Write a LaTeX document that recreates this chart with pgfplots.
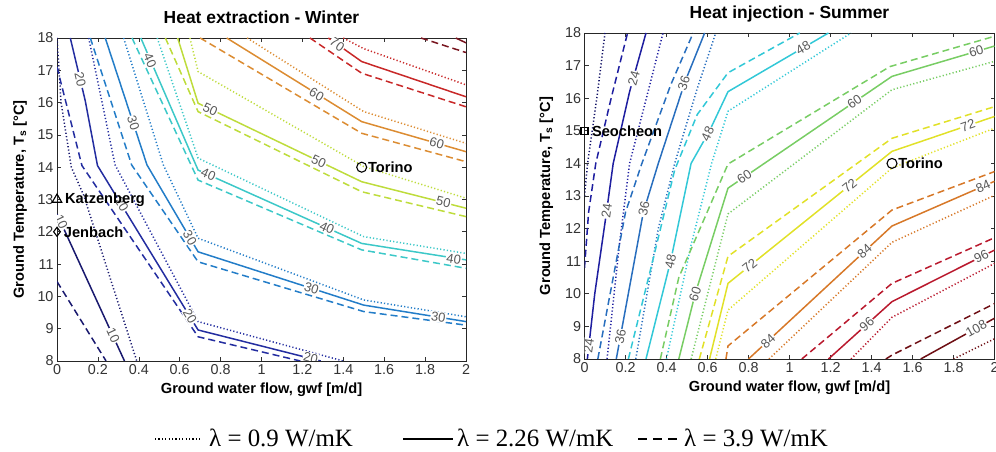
\documentclass[border=0pt]{standalone}
\usepackage{fontspec}
\setmainfont{Liberation Serif}
\setsansfont{Liberation Sans}
\usepackage{pgfplots}
\pgfplotsset{compat=1.18}

\definecolor{wA}{RGB}{25,25,110}
\definecolor{wB}{RGB}{35,45,160}
\definecolor{wC}{RGB}{35,125,200}
\definecolor{wD}{RGB}{60,200,200}
\definecolor{wE}{RGB}{190,220,60}
\definecolor{wF}{RGB}{220,140,50}
\definecolor{wG}{RGB}{200,40,40}
\definecolor{wH}{RGB}{120,20,30}
\definecolor{sA}{RGB}{15,15,100}
\definecolor{sB}{RGB}{30,30,160}
\definecolor{sC}{RGB}{40,110,190}
\definecolor{sD}{RGB}{50,200,215}
\definecolor{sE}{RGB}{120,205,100}
\definecolor{sF}{RGB}{225,225,40}
\definecolor{sG}{RGB}{215,120,40}
\definecolor{sH}{RGB}{185,25,45}
\definecolor{sI}{RGB}{110,15,20}

\tikzset{
  sol/.style={solid, line width=1.5bp},
  das/.style={line width=1.5bp, dash pattern=on 7bp off 4bp},
  dot/.style={line width=1.5bp, dash pattern=on 1.2bp off 2.2bp},
  lab/.style={font=\sffamily\fontsize{13}{13}\selectfont, text=black!65, fill=white, inner sep=0.8bp},
  mlab/.style={font=\sffamily\bfseries\fontsize{14.7}{14.7}\selectfont, anchor=west, inner sep=0bp},
  leg/.style={font=\rmfamily\fontsize{25}{25}\selectfont, anchor=base west, inner sep=0bp},
}

\pgfplotsset{
  cplot/.style={
    scale only axis,
    xmin=0, xmax=2, ymin=8, ymax=18,
    xtick={0,0.2,0.4,0.6,0.8,1,1.2,1.4,1.6,1.8,2},
    xticklabels={0,0.2,0.4,0.6,0.8,1,1.2,1.4,1.6,1.8,2},
    ytick={8,9,10,11,12,13,14,15,16,17,18},
    tick align=inside, xtick pos=both, ytick pos=both,
    major tick length=4bp,
    every tick/.style={black!80, line width=0.6bp},
    axis line style={black!85, line width=0.8bp},
    tick label style={font=\sffamily\fontsize{14.4}{14.4}\selectfont, text=black!80},
    /pgf/number format/assume math mode=true,
    xlabel={Ground water flow, gwf [m/d]},
    ylabel={Ground Temperature, T\textsubscript{s} [°C]},
    label style={font=\sffamily\bfseries\fontsize{14.7}{14.7}\selectfont},
    title style={font=\sffamily\bfseries\fontsize{17.5}{17.5}\selectfont, at={(axis description cs:0.5,1)}, anchor=base, yshift=9bp},
    xlabel style={at={(axis description cs:0.5,0)}, anchor=base, yshift=-33bp},
    every axis plot/.append style={mark=none},
  },
}

\begin{document}
\begin{tikzpicture}
% ================= WINTER =================
\begin{axis}[cplot, at={(57bp,91bp)}, anchor=south west, width=409bp, height=323bp,
  title={Heat extraction - Winter},
  ylabel style={at={(axis description cs:-0.0807,0.5)}, anchor=base},
]
% level 10
\addplot[sol, draw=wA] coordinates {(0,12.55) (0.33,8)};
\addplot[das, draw=wA] coordinates {(0,10.46) (0.24,8)};
\addplot[dot, draw=wA] coordinates {(0,18) (0.02,16) (0.07,14) (0.13,13.14) (0.39,8)};
% level 20
\addplot[sol, draw=wB] coordinates {(0.065,18) (0.138,16.06) (0.198,14.05) (0.69,8.96) (1.29,8)};
\addplot[das, draw=wB] coordinates {(0,17.1) (0.122,14.05) (0.69,8.75) (1.19,8)};
\addplot[dot, draw=wB] coordinates {(0.155,18) (0.284,14.07) (0.69,9.22) (1.40,8)};
% level 30
\addplot[sol, draw=wC] coordinates {(0.236,18) (0.44,14.07) (0.69,11.38) (1.5,9.73) (2,9.22)};
\addplot[das, draw=wC] coordinates {(0.163,18) (0.365,14.07) (0.69,11.07) (1.5,9.53) (2,9.11)};
\addplot[dot, draw=wC] coordinates {(0.326,18) (0.52,14.07) (0.69,11.8) (1.5,9.89) (2,9.37)};
% level 40
\addplot[sol, draw=wD] coordinates {(0.41,18) (0.69,13.91) (1.49,11.64) (2,11.13)};
\addplot[das, draw=wD] coordinates {(0.367,18) (0.69,13.6) (1.49,11.44) (2,10.87)};
\addplot[dot, draw=wD] coordinates {(0.49,18) (0.69,14.28) (1.5,11.85) (2,11.33)};
% level 50
\addplot[sol, draw=wE] coordinates {(0.59,18) (0.69,15.98) (1.49,13.55) (2,12.73)};
\addplot[das, draw=wE] coordinates {(0.53,18) (0.69,15.72) (1.49,13.24) (2,12.47)};
\addplot[dot, draw=wE] coordinates {(0.65,18) (0.69,16.96) (1.5,14.02) (2,13.04)};
% level 60
\addplot[sol, draw=wF] coordinates {(0.83,18) (1.49,15.41) (2,14.48)};
\addplot[das, draw=wF] coordinates {(0.70,18) (1.49,15.05) (2,14.17)};
\addplot[dot, draw=wF] coordinates {(0.93,18) (1.5,15.72) (2,14.74)};
% level 70
\addplot[sol, draw=wG] coordinates {(1.327,18) (1.49,17.27) (2,16.18)};
\addplot[das, draw=wG] coordinates {(1.237,18) (1.49,16.91) (2,15.87)};
\addplot[dot, draw=wG] coordinates {(1.40,18) (1.5,17.67) (2,16.55)};
% level 80
\addplot[sol, draw=wH] coordinates {(1.95,18) (2,17.85)};
\addplot[das, draw=wH] coordinates {(1.78,18) (2,17.55)};
% contour labels
\node[lab, rotate=-77] at (axis cs:0.114,16.7) {20};
\node[lab, rotate=-72] at (axis cs:0.373,15.36) {30};
\node[lab, rotate=-66] at (axis cs:0.455,17.3) {40};
\node[lab, rotate=-25] at (axis cs:0.75,15.8) {50};
\node[lab, rotate=-24] at (axis cs:0.74,13.77) {40};
\node[lab, rotate=-60] at (axis cs:0.65,11.81) {30};
\node[lab, rotate=-59] at (axis cs:0.65,9.38) {20};
\node[lab, rotate=-14] at (axis cs:1.24,8.1) {20};
\node[lab, rotate=-18] at (axis cs:1.245,10.25) {30};
\node[lab, rotate=-24] at (axis cs:1.32,12.12) {40};
\node[lab, rotate=-25] at (axis cs:1.28,14.17) {50};
\node[lab, rotate=-31] at (axis cs:1.27,16.26) {60};
\node[lab, rotate=-35] at (axis cs:1.37,17.8) {70};
\node[lab, rotate=-16] at (axis cs:1.857,14.74) {60};
\node[lab, rotate=-14] at (axis cs:1.89,12.93) {50};
\node[lab, rotate=-9] at (axis cs:1.94,11.16) {40};
\node[lab, rotate=-9] at (axis cs:1.865,9.36) {30};
\node[lab, rotate=-65] at (axis cs:0.275,8.8) {10};
\node[lab, rotate=-65] at (axis cs:0.02,12.3) {10};
\node[lab, rotate=-59] at (axis cs:0.316,12.85) {20};
% sites
\addplot[only marks, mark=triangle, mark size=5.5bp, black, mark options={line width=1.1bp, solid}] coordinates {(0,13)};
\addplot[only marks, mark=diamond, mark size=4.5bp, black, mark options={line width=1.1bp, solid}] coordinates {(0,12)};
\addplot[only marks, mark=o, mark size=5bp, black, mark options={line width=1.1bp, solid}] coordinates {(1.49,14)};
\node[mlab] at (axis cs:0.039,13) {Katzenberg};
\node[mlab] at (axis cs:0.033,12) {Jenbach};
\node[mlab] at (axis cs:1.52,14) {Torino};
\end{axis}

% ================= SUMMER =================
\begin{axis}[cplot, at={(584.5bp,93bp)}, anchor=south west, width=410bp, height=326bp,
  title={Heat injection - Summer},
  ylabel style={at={(axis description cs:-0.084,0.5)}, anchor=base},
]
% level 12
\addplot[dot, draw=sA] coordinates {(0,13) (0.015,14) (0.06,16) (0.10,18)};
% level 24
\addplot[sol, draw=sB] coordinates {(0.014,8) (0.05,10) (0.105,12.4) (0.14,14) (0.22,16.2) (0.30,18)};
\addplot[das, draw=sB] coordinates {(0,10.8) (0.02,12.5) (0.055,14) (0.13,16) (0.21,18)};
\addplot[dot, draw=sB] coordinates {(0.11,8) (0.17,11.5) (0.22,14) (0.31,16.2) (0.383,18)};
% level 36
\addplot[sol, draw=sC] coordinates {(0.155,8) (0.287,12.5) (0.36,14) (0.49,16.5) (0.586,18)};
\addplot[das, draw=sC] coordinates {(0.065,8) (0.2,12.5) (0.28,14) (0.42,16.4) (0.53,18)};
\addplot[dot, draw=sC] coordinates {(0.25,8) (0.36,12) (0.44,14) (0.55,16.3) (0.64,18)};
% level 48
\addplot[sol, draw=sD] coordinates {(0.30,8) (0.42,11) (0.52,14) (0.61,15) (0.70,16.2) (1.19,18)};
\addplot[das, draw=sD] coordinates {(0.214,8) (0.34,11.2) (0.44,13.8) (0.55,15.5) (0.70,16.78) (1.05,18)};
\addplot[dot, draw=sD] coordinates {(0.40,8) (0.52,11.5) (0.62,14) (0.70,15.6) (1.30,18)};
% level 60
\addplot[sol, draw=sE] coordinates {(0.46,8) (0.54,10) (0.70,13.24) (1.5,16.67) (2,17.6)};
\addplot[das, draw=sE] coordinates {(0.37,8) (0.46,10.5) (0.70,13.98) (1.49,16.97) (2,17.9)};
\addplot[dot, draw=sE] coordinates {(0.52,8) (0.70,12.45) (1.5,16.26) (2,17.13)};
% level 72
\addplot[sol, draw=sF] coordinates {(0.61,8) (0.70,10.32) (1.5,14.37) (2,15.44)};
\addplot[das, draw=sF] coordinates {(0.56,8) (0.70,11.15) (1.5,14.77) (2,15.74)};
\addplot[dot, draw=sF] coordinates {(0.64,8) (0.70,9.5) (1.5,13.86) (2,15.08)};
% level 84
\addplot[sol, draw=sG] coordinates {(0.80,8) (1.5,12.08) (2,13.45)};
\addplot[das, draw=sG] coordinates {(0.69,8) (0.70,8.4) (1.5,12.57) (2,13.75)};
\addplot[dot, draw=sG] coordinates {(0.90,8) (1.5,11.58) (2,13.02)};
% level 96
\addplot[sol, draw=sH] coordinates {(1.19,8) (1.5,9.76) (2,11.34)};
\addplot[das, draw=sH] coordinates {(1.06,8) (1.5,10.32) (2,11.72)};
\addplot[dot, draw=sH] coordinates {(1.30,8) (1.5,9.28) (2,10.93)};
% level 108
\addplot[sol, draw=sI] coordinates {(1.64,8) (2,9.25)};
\addplot[das, draw=sI] coordinates {(1.47,8) (1.5,8.12) (2,9.7)};
\addplot[dot, draw=sI] coordinates {(1.80,8) (2,8.62)};
% contour labels
\node[lab, rotate=74] at (axis cs:0.24,16.6) {24};
\node[lab, rotate=82] at (axis cs:0.108,12.55) {24};
\node[lab, rotate=82] at (axis cs:0.02,8.4) {24};
\node[lab, rotate=72] at (axis cs:0.485,16.45) {36};
\node[lab, rotate=79] at (axis cs:0.29,12.6) {36};
\node[lab, rotate=79] at (axis cs:0.175,8.68) {36};
\node[lab, rotate=65] at (axis cs:0.60,14.9) {48};
\node[lab, rotate=30] at (axis cs:1.066,17.55) {48};
\node[lab, rotate=78] at (axis cs:0.42,11.0) {48};
\node[lab, rotate=72] at (axis cs:0.54,10.0) {60};
\node[lab, rotate=34] at (axis cs:0.78,13.58) {60};
\node[lab, rotate=34] at (axis cs:1.317,15.9) {60};
\node[lab, rotate=16] at (axis cs:1.911,17.43) {60};
\node[lab, rotate=39] at (axis cs:0.806,10.86) {72};
\node[lab, rotate=39] at (axis cs:1.293,13.32) {72};
\node[lab, rotate=19] at (axis cs:1.87,15.16) {72};
\node[lab, rotate=43] at (axis cs:0.895,8.55) {84};
\node[lab, rotate=43] at (axis cs:1.366,11.3) {84};
\node[lab, rotate=24] at (axis cs:1.944,13.3) {84};
\node[lab, rotate=42] at (axis cs:1.377,9.06) {96};
\node[lab, rotate=27] at (axis cs:1.936,11.14) {96};
\node[lab, rotate=29] at (axis cs:1.911,8.94) {108};
% sites
\addplot[only marks, mark=square, mark size=3.5bp, black, mark options={line width=1.1bp, solid}] coordinates {(0,15)};
\addplot[only marks, mark=o, mark size=5bp, black, mark options={line width=1.1bp, solid}] coordinates {(1.5,14)};
\node[mlab] at (axis cs:0.036,15) {Seocheon};
\node[mlab] at (axis cs:1.53,14) {Torino};
\end{axis}

% ================= LEGEND (hidden axis in pixel units) =================
\begin{axis}[hide axis, scale only axis, at={(0bp,0bp)}, anchor=south west,
  width=996bp, height=30bp, xmin=0, xmax=996, ymin=0, ymax=30, clip=false]
\addplot[dot, black, line width=1.3bp] coordinates {(155,13) (202,13)};
\addplot[sol, black, line width=1.6bp] coordinates {(403,13) (453,13)};
\addplot[black, line width=1.6bp, dash pattern=on 9bp off 6bp] coordinates {(638,13) (677,13)};
\node[leg] at (axis cs:209,5.5) {λ = 0.9 W/mK};
\node[leg] at (axis cs:457,5.5) {λ = 2.26 W/mK};
\node[leg] at (axis cs:684,5.5) {λ = 3.9 W/mK};
\end{axis}
\pgfresetboundingbox
\path (0bp,0bp) rectangle (996bp,452bp);
\end{tikzpicture}
\end{document}
